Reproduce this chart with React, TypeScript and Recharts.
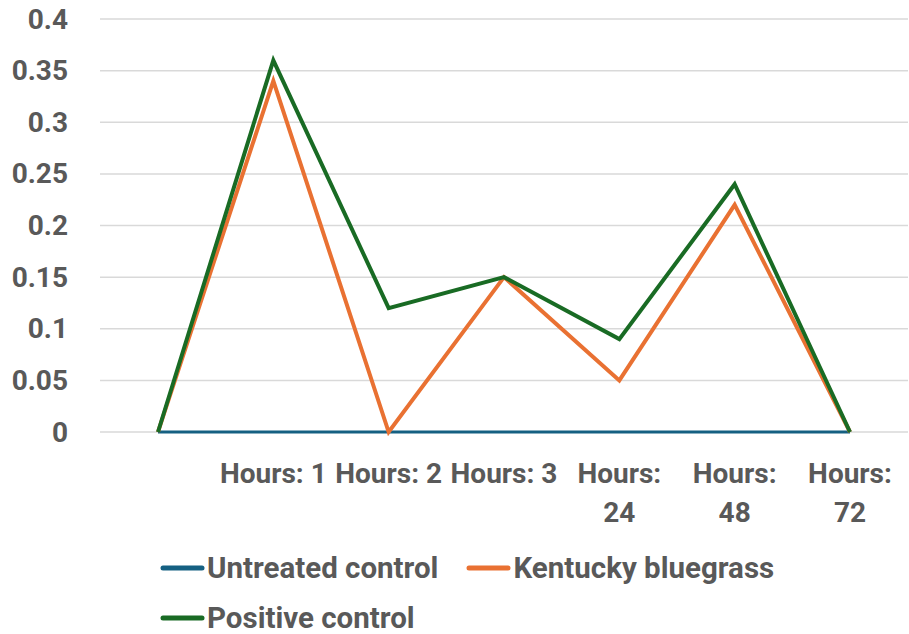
import React from "react";
import { LineChart, Line, XAxis, YAxis, CartesianGrid, Legend } from "recharts";

const categories = ["", "Hours: 1", "Hours: 2", "Hours: 3", "Hours: 24", "Hours: 48", "Hours: 72"];
const untreatedControl = [0, 0, 0, 0, 0, 0, 0];
const kentuckyBluegrass = [0, 0.34, 0, 0.15, 0.05, 0.22, 0];
const positiveControl = [0, 0.36, 0.12, 0.15, 0.09, 0.24, 0];
const yTicks = [0, 0.05, 0.1, 0.15, 0.2, 0.25, 0.3, 0.35, 0.4];
const yTickLabels = ["0", "0.05", "0.1", "0.15", "0.2", "0.25", "0.3", "0.35", "0.4"];

const seriesNames = ["Untreated control", "Kentucky bluegrass", "Positive control"];
const seriesColors = ["#156082", "#E97132", "#196B24"];

const data = categories.map((c, i) => ({
  cat: c,
  u: untreatedControl[i],
  k: kentuckyBluegrass[i],
  p: positiveControl[i],
}));

const FONT = "Roboto, 'DejaVu Sans', sans-serif";
const TEXT_COLOR = "#595959";
const fontStyle = { fontFamily: FONT, fontWeight: 700, fontSize: 28 };
const BAND = 115;

let measureCtx: CanvasRenderingContext2D | null = null;
function measure(s: string): number {
  if (typeof document === "undefined") return s.length * 15;
  if (!measureCtx) {
    const c = document.createElement("canvas");
    measureCtx = c.getContext("2d");
  }
  if (!measureCtx) return s.length * 15;
  measureCtx.font = `700 28px ${FONT}`;
  return measureCtx.measureText(s).width;
}

function wrapLabel(s: string): string[] {
  if (measure(s) <= BAND) return [s];
  const words = s.split(" ");
  const lines: string[] = [];
  let cur = "";
  for (const w of words) {
    const next = cur ? cur + " " + w : w;
    if (cur && measure(next) > BAND) {
      lines.push(cur);
      cur = w;
    } else {
      cur = next;
    }
  }
  if (cur) lines.push(cur);
  return lines;
}

const XTick = (props: any) => {
  const { x, y, payload } = props;
  const lines = wrapLabel(String(payload.value));
  return (
    <text x={x} y={y} textAnchor="middle" fill={TEXT_COLOR} style={fontStyle}>
      {lines.map((l, i) => (
        <tspan key={i} x={x} dy={i === 0 ? "0.71em" : 39}>
          {l}
        </tspan>
      ))}
    </text>
  );
};

const YTick = (props: any) => {
  const { x, y, payload } = props;
  const idx = yTicks.indexOf(payload.value);
  return (
    <text
      x={x}
      y={y}
      textAnchor="end"
      dominantBaseline="central"
      fill={TEXT_COLOR}
      style={fontStyle}
    >
      {idx >= 0 ? yTickLabels[idx] : String(payload.value)}
    </text>
  );
};

const LegendContent = () => {
  return (
    <div style={{ display: "flex", flexWrap: "wrap", columnGap: 28, width: 748 }}>
      {seriesNames.map((name, i) => (
        <div key={i} style={{ display: "flex", alignItems: "center", height: 50 }}>
          <svg width={47} height={10} style={{ display: "block" }}>
            <line x1={3} y1={5} x2={42} y2={5} stroke={seriesColors[i]} strokeWidth={5} strokeLinecap="round" />
          </svg>
          <span
            style={{
              fontFamily: FONT,
              fontWeight: 700,
              fontSize: 29.5,
              color: TEXT_COLOR,
              lineHeight: "50px",
              whiteSpace: "nowrap",
            }}
          >
            {name}
          </span>
        </div>
      ))}
    </div>
  );
};

export default function App() {
  return (
    <div style={{ position: "absolute", left: 0, top: 0, width: 909, height: 634, background: "#fff" }}>
      <LineChart
        width={909}
        height={634}
        data={data}
        margin={{ top: 19, right: 1, bottom: 102, left: 0 }}
      >
        <CartesianGrid vertical={false} stroke="#d9d9d9" strokeWidth={1.5} />
        <XAxis
          dataKey="cat"
          axisLine={false}
          tickLine={false}
          tickSize={0}
          tickMargin={31}
          height={100}
          padding={{ left: 58, right: 58 }}
          interval={0}
          tick={<XTick />}
        />
        <YAxis
          domain={[0, 0.4]}
          ticks={yTicks}
          width={100}
          axisLine={false}
          tickLine={false}
          tickSize={0}
          tickMargin={32}
          interval={0}
          tick={<YTick />}
        />
        <Legend
          layout="horizontal"
          verticalAlign="middle"
          align="center"
          wrapperStyle={{ top: 543, left: 160, width: 748, bottom: "auto", right: "auto" }}
          content={<LegendContent />}
        />
        <Line type="linear" dataKey="u" name={seriesNames[0]} stroke={seriesColors[0]} strokeWidth={3} dot={false} activeDot={false} isAnimationActive={false} />
        <Line type="linear" dataKey="k" name={seriesNames[1]} stroke={seriesColors[1]} strokeWidth={4} dot={false} activeDot={false} isAnimationActive={false} />
        <Line type="linear" dataKey="p" name={seriesNames[2]} stroke={seriesColors[2]} strokeWidth={4} dot={false} activeDot={false} isAnimationActive={false} />
      </LineChart>
    </div>
  );
}
